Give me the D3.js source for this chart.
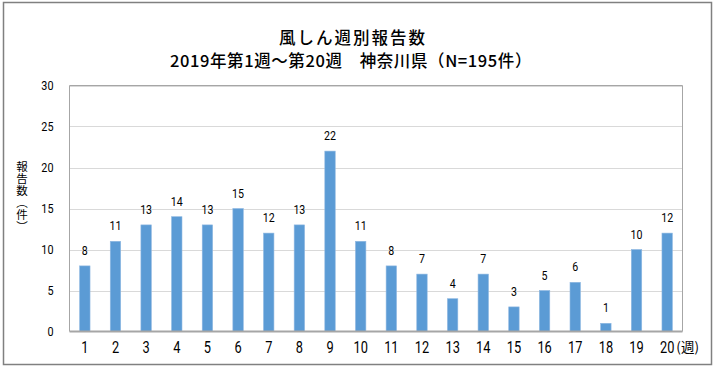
<!DOCTYPE html>
<html><head><meta charset="utf-8">
<script src="https://cdn.jsdelivr.net/npm/d3@7"></script>
<style>
html,body{margin:0;padding:0;background:#fff;}
text{font-family:Roboto,"Noto Sans CJK JP",sans-serif;}
.num{font-family:Roboto,"Noto Sans",sans-serif;}
.jp{font-family:"Noto Sans CJK JP",sans-serif;}
</style></head>
<body><svg id="c" width="715" height="369"></svg>
<script>
const weeks = ["1","2","3","4","5","6","7","8","9","10","11","12","13","14","15","16","17","18","19","20"];
const counts = [8,11,13,14,13,15,12,13,22,11,8,7,4,7,3,5,6,1,10,12];
const yTicks = [0,5,10,15,20,25,30];
const titleLines = ["風しん週別報告数","2019年第1週～第20週　神奈川県（N=195件）"];
const yTitle = "報告数（件）";
const xUnit = "(週)";

const svg = d3.select("#c");
const L=69.5, R=682.5, T=85.5, B=331.5;
svg.append("rect").attr("x",3.5).attr("y",2.5).attr("width",708).attr("height",362)
  .attr("fill","#fff").attr("stroke","#808080").attr("stroke-width",1.5);

const x = d3.scaleBand().domain(weeks).range([L,R]).paddingInner(0.66).paddingOuter(0.33);
const y = d3.scaleLinear().domain([0,30]).range([B,T]);

function narrow(sel, k){
  sel.each(function(){
    const n=this, w=n.getComputedTextLength();
    d3.select(n).attr("textLength",w*k).attr("lengthAdjust","spacingAndGlyphs");
  });
}

svg.append("g").selectAll("line").data(yTicks.slice(1)).join("line")
  .attr("x1",L).attr("x2",R).attr("y1",d=>Math.round(y(d))+0.5).attr("y2",d=>Math.round(y(d))+0.5)
  .attr("stroke","#D9D9D9").attr("stroke-width",1);
svg.append("path").attr("d",`M${L},${B}V${T}H${R}V${B}`).attr("fill","none")
  .attr("stroke","#A6A6A6").attr("stroke-width",1);

svg.append("g").selectAll("rect").data(counts).join("rect")
  .attr("x",(d,i)=>x(weeks[i])).attr("width",x.bandwidth())
  .attr("y",d=>y(d)).attr("height",d=>B-y(d))
  .attr("fill","#5B9BD5").attr("stroke","#8FB8E2").attr("stroke-width",0.6);

const vl = svg.append("g").selectAll("text").data(counts).join("text").attr("class","num")
  .attr("x",(d,i)=>x(weeks[i])+x.bandwidth()/2).attr("y",d=>y(d)-11)
  .attr("text-anchor","middle").attr("font-size",12.5).attr("fill","#000").text(d=>d);
narrow(vl,0.85);

svg.append("line").attr("x1",L).attr("x2",R).attr("y1",B).attr("y2",B)
  .attr("stroke","#A6A6A6").attr("stroke-width",2);
const xa = svg.append("g").attr("transform",`translate(0,${B})`)
  .call(d3.axisBottom(x).tickSize(0).tickPadding(0));
xa.select(".domain").remove();
xa.selectAll("text").attr("class","num").attr("font-size",16).attr("fill","#000").attr("dy",0).attr("y",21);
narrow(xa.selectAll("text"),0.8);
const last = xa.selectAll(".tick").filter(d=>d==="20");
const bb = last.select("text").node().getBBox();
last.append("text").attr("class","jp").attr("x",bb.x+bb.width+2).attr("y",20.5).attr("font-size",13.5)
  .attr("fill","#000").attr("text-anchor","start").text(xUnit);

const ya = svg.append("g").attr("transform",`translate(${L},0)`)
  .call(d3.axisLeft(y).tickValues(yTicks).tickSize(0).tickPadding(16));
ya.select(".domain").remove();
ya.selectAll("text").attr("class","num").attr("font-size",13.5).attr("fill","#000");
narrow(ya.selectAll("text"),0.8);

svg.append("text").attr("class","jp").attr("x",22).attr("y",161)
  .style("writing-mode","vertical-rl").attr("font-size",11.5).attr("fill","#000")
  .attr("letter-spacing",0.5).text(yTitle);

svg.append("text").attr("class","jp").attr("x",353).attr("y",44).attr("text-anchor","middle")
  .attr("font-size",16.5).attr("font-weight",500).attr("letter-spacing",2).text(titleLines[0]);
svg.append("text").attr("class","jp").attr("x",351).attr("y",67).attr("text-anchor","middle")
  .attr("font-size",16.5).attr("font-weight",500).attr("letter-spacing",0.6).text(titleLines[1]);
</script></body></html>
